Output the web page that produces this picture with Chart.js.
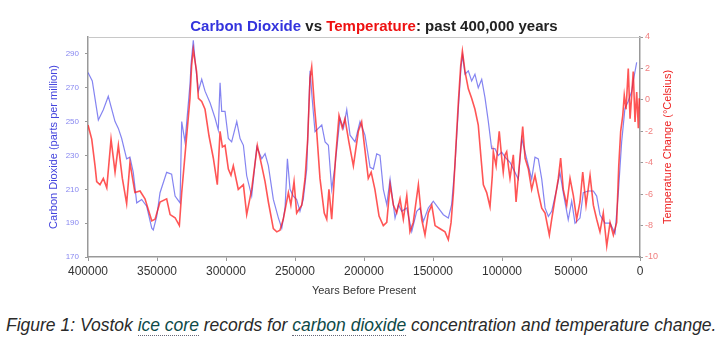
<!DOCTYPE html>
<html>
<head>
<meta charset="utf-8">
<script src="https://cdn.jsdelivr.net/npm/chart.js@4.4.1/dist/chart.umd.min.js"></script>
<style>
  body { margin: 0; background: #fff; font-family: "Liberation Sans", Arial, sans-serif; }
  #wrap { position: relative; width: 724px; height: 351px; }
  #box { position: absolute; left: 0; top: 0; width: 724px; height: 300px; }
  #title { position: absolute; left: 0; top: 17px; width: 748px; text-align: center;
    font-weight: bold; font-size: 15px; color: #222; }
  #title .co2 { color: #3333dd; }
  #title .temp { color: #ee1111; }
  #caption { position: absolute; left: 6px; top: 315px; font-size: 17.5px; font-style: italic; color: #2a2a2a; white-space: nowrap; }
  #caption span { color: #0e4a48; border-bottom: 1px dotted #667; }
</style>
</head>
<body>
<div id="wrap">
  <div id="box"><canvas id="lineChart"></canvas></div>
  <div id="title"><span class="co2">Carbon Dioxide</span> vs <span class="temp">Temperature</span>: past 400,000 years</div>
  <div id="caption">Figure 1: Vostok <span>ice core</span> records for <span>carbon dioxide</span> concentration and temperature change.</div>
</div>
<script>
// years before present / ppm
const co2Years = [400000, 396900, 392500, 388900, 385300, 380400, 378000, 375600,
    372000, 369600, 367200, 364700, 361100, 357500, 353800, 352700, 350200, 347800,
    343000, 339400, 336900, 333300, 332100, 329700, 326100, 325300, 323700, 322400,
    320000, 317600, 315200, 311500, 307900, 305600, 304300, 303100, 300700, 298300,
    295900, 292200, 289800, 287400, 285000, 281400, 277700, 274100, 271700, 269300,
    265700, 262000, 259600, 257200, 255500, 253600, 251200, 248800, 246400, 244000,
    241500, 239100, 237400, 235500, 233100, 230600, 228200, 225800, 223400, 221000,
    217400, 214900, 212500, 210100, 206500, 202900, 199300, 195600, 193200, 190800,
    188400, 186000, 183500, 181100, 177500, 175100, 172700, 169000, 165400, 161800,
    159400, 157000, 153400, 149800, 146200, 142500, 138900, 136500, 134100, 131600,
    129700, 128500, 126800, 124400, 122000, 119600, 117200, 114700, 112300, 109900,
    107500, 105100, 102700, 100200, 97800, 94200, 90600, 88200, 85700, 82100, 78500,
    76100, 73700, 71200, 68800, 66400, 64000, 60400, 58000, 55600, 52000, 49500,
    47100, 43500, 41100, 37500, 33800, 31400, 29000, 25400, 21700, 18100, 15700,
    13300, 10900, 8500, 6000, 4900, 2400];
const co2Values = [279, 274, 251, 257, 265, 250, 246, 240,
    228, 229, 220, 202, 204, 200, 187, 186, 194, 208,
    220, 219, 206, 202, 250, 238, 272, 284, 298, 286,
    268, 275, 268, 261, 252, 245, 273, 256, 256, 240,
    238, 250, 240, 236, 218, 206, 235, 228, 231, 224,
    204, 193, 187, 199, 228, 210, 206, 204, 197, 204,
    222, 280, 262, 244, 246, 248, 238, 236, 210, 224,
    252, 246, 257, 242, 238, 250, 242, 223, 222, 231,
    230, 210, 201, 216, 193, 201, 197, 199, 185, 197,
    199, 191, 199, 203, 199, 195, 193, 201, 224, 258,
    282, 289, 278, 280, 274, 278, 270, 275, 264, 250,
    234, 234, 230, 232, 229, 226, 220, 216, 240, 228, 216,
    229, 228, 216, 199, 194, 197, 210, 220, 208, 192, 203,
    190, 193, 208, 209, 209, 206, 195, 190, 190, 184, 208,
    238, 258, 262, 268, 274, 285];

// years before present / temperature change in degrees C
const tempYears = [400000, 397300, 394900, 393700, 391300, 388900, 386400, 383300,
    380400, 378000, 375100, 372000, 369600, 366000, 362300, 358700, 353800, 351400,
    347800, 343000, 340500, 336900, 333800, 332100, 329700, 326100, 324900, 323700,
    321300, 320000, 317600, 315200, 312300, 309200, 306300, 304300, 302600, 300700,
    298300, 296400, 294700, 291100, 287400, 285000, 281400, 277300, 274100, 271700,
    269300, 265700, 263200, 260900, 258500, 254800, 253000, 250700, 248800, 245100,
    242700, 240800, 239100, 237900, 236000, 234300, 231900, 228800, 227000, 225400,
    223400, 220600, 218100, 215700, 213800, 210900, 207700, 204100, 201700, 199300,
    196900, 194800, 192100, 189100, 186000, 183500, 181100, 178700, 176300, 173900,
    171500, 169000, 166700, 164300, 160600, 158200, 155800, 153400, 150900, 148500,
    144900, 141300, 138900, 136900, 135200, 133500, 131600, 129900, 128700, 126800,
    124400, 122000, 119600, 117200, 115200, 113500, 111100, 108700, 107000, 106300,
    104300, 102000, 100200, 99100, 97800, 96600, 95400, 94200, 91800, 89800, 87500,
    85000, 83300, 80900, 78500, 76100, 73700, 71200, 68800, 65700, 64000, 61600,
    59200, 57500, 55600, 53100, 50700, 48300, 45900, 43500, 41500, 39100, 36200,
    33800, 31400, 29000, 26600, 24100, 21700, 19300, 16900, 15400, 14000, 12500,
    11400, 10100, 8500, 7200, 6000, 4900, 3600, 2400, 1200, 500];
const tempValues = [-1.6, -2.5, -4.2, -5.2, -5.4, -5.0, -5.6, -2.5,
    -4.6, -2.9, -5.0, -6.6, -4.0, -5.9, -5.8, -6.3, -7.7, -7.6,
    -6.5, -6.3, -7.3, -7.5, -8.0, -5.9, -3.5, 0.1, 2.2, 3.2,
    1.8, 0.1, -0.1, -0.6, -2.3, -3.7, -5.4, -2.0, -3.0, -2.9,
    -4.4, -4.8, -4.2, -5.7, -5.4, -7.3, -5.7, -2.9, -4.2, -5.2,
    -6.5, -8.2, -8.4, -8.3, -7.6, -5.9, -6.7, -5.2, -7.2, -6.7,
    -5.0, -2.5, 1.4, 2.1, -0.3, -2.0, -5.0, -7.2, -7.6, -5.7,
    -7.6, -3.7, -1.0, -1.8, -1.2, -2.7, -4.2, -2.0, -1.4, -3.2,
    -5.0, -4.6, -5.7, -7.4, -8.0, -7.8, -5.4, -6.7, -7.2, -6.3,
    -7.6, -6.1, -8.4, -7.8, -5.4, -7.6, -8.6, -7.2, -6.7, -8.0,
    -8.2, -8.4, -8.9, -7.8, -5.9, -3.1, -0.1, 2.2, 3.1, 1.8,
    0.7, 0.1, -0.6, -1.6, -3.7, -5.4, -5.9, -6.8, -4.8, -3.3,
    -4.2, -2.0, -3.7, -4.6, -3.5, -3.3, -4.2, -5.0, -3.5, -6.5, -4.2,
    -1.7, -3.7, -4.4, -5.7, -4.8, -5.9, -6.9, -7.2, -8.6, -7.6, -6.3,
    -5.0, -3.7, -5.7, -6.7, -5.0, -6.1, -7.6, -6.5, -4.6, -6.7, -4.8,
    -6.7, -7.6, -8.4, -7.2, -9.3, -7.8, -8.6, -7.8, -4.2, -2.0, -1.0,
    0.3, -0.6, 2.0, -1.2, 0.3, 1.8, -1.4, 0.5, -1.8, 0.1];

const co2Ticks = [170, 190, 210, 230, 250, 270, 290];
const tempTitle = 'Temperature Change (°Celsius)';

document.addEventListener('DOMContentLoaded', function() {
    const font = 'Liberation Sans, Arial, sans-serif';

    // top frame line + right axis title written bottom-to-top like the left one
    const boxPlugin = {
        id: 'box',
        afterDraw(chart) {
            const a = chart.chartArea;
            const ctx = chart.ctx;
            ctx.save();
            ctx.strokeStyle = '#c8c8c8';
            ctx.lineWidth = 1;
            ctx.beginPath();
            ctx.moveTo(a.left, a.top + 0.5);
            ctx.lineTo(a.right, a.top + 0.5);
            ctx.stroke();
            ctx.translate(668, (a.top + a.bottom) / 2);
            ctx.rotate(-Math.PI / 2);
            ctx.fillStyle = '#ee2222';
            ctx.font = '11px ' + font;
            ctx.textAlign = 'center';
            ctx.textBaseline = 'middle';
            ctx.fillText(tempTitle, 0, 0);
            ctx.restore();
        }
    };

    const chartData = {
        datasets: [{
            label: 'Temperature',
            data: tempYears.map((y, i) => ({x: y, y: tempValues[i]})),
            yAxisID: 'yT',
            borderColor: 'rgba(255, 20, 20, 0.72)',
            borderWidth: 1.6,
            pointRadius: 0,
            tension: 0
        }, {
            label: 'CO2',
            data: co2Years.map((y, i) => ({x: y, y: co2Values[i]})),
            yAxisID: 'yC',
            borderColor: 'rgba(80, 80, 235, 0.7)',
            borderWidth: 1.2,
            pointRadius: 0,
            tension: 0
        }]
    };

    const chartOptions = {
        responsive: true,
        maintainAspectRatio: false,
        animation: false,
        layout: { padding: { left: 43, right: 48, top: 37, bottom: 0 } },
        plugins: { legend: false, tooltip: false },
        scales: {
            x: {
                type: 'linear',
                reverse: true,
                min: 0,
                max: 400000,
                afterFit(s) { s.height = 43; },
                ticks: {
                    stepSize: 50000,
                    maxRotation: 0,
                    padding: 3,
                    color: '#333',
                    font: { family: font, size: 12 },
                    callback: v => String(v)
                },
                grid: { drawOnChartArea: false, tickLength: 4, color: '#999' },
                border: { color: '#999', width: 1.5 },
                title: {
                    display: true,
                    text: 'Years Before Present',
                    color: '#333',
                    font: { family: font, size: 11 },
                    padding: 2
                }
            },
            yC: {
                position: 'left',
                min: 170,
                max: 300,
                afterFit(s) { s.width = 45; },
                afterBuildTicks(s) { s.ticks = co2Ticks.map(v => ({value: v})); },
                ticks: {
                    padding: 6,
                    color: '#8888f0',
                    font: { family: font, size: 8 }
                },
                grid: { drawOnChartArea: false, tickLength: 3, color: '#999' },
                border: { color: '#999', width: 1.5 },
                title: {
                    display: true,
                    text: 'Carbon Dioxide (parts per million)',
                    color: '#4444dd',
                    font: { family: font, size: 11 },
                    padding: 4
                }
            },
            yT: {
                position: 'right',
                min: -10,
                max: 4,
                afterFit(s) { s.width = 36; },
                ticks: {
                    stepSize: 2,
                    padding: 2,
                    color: '#f08080',
                    font: { family: font, size: 9 }
                },
                grid: { drawOnChartArea: false, tickLength: 3, color: '#999' },
                border: { color: '#999', width: 1.5 }
            }
        }
    };

    const lineChart = new Chart(document.getElementById('lineChart').getContext('2d'), {
        type: 'line',
        data: chartData,
        options: chartOptions,
        plugins: [boxPlugin]
    });
});
</script>
</body>
</html>
